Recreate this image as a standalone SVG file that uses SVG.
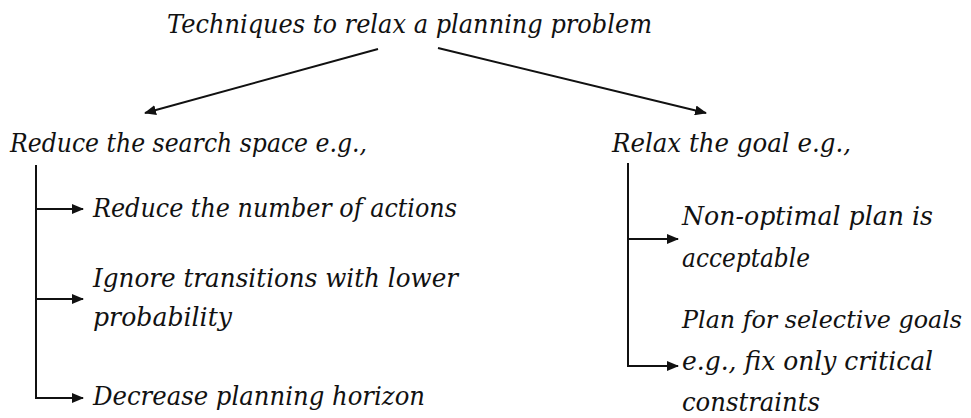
<svg xmlns="http://www.w3.org/2000/svg" width="971" height="418" viewBox="0 0 971 418">
<style>
text{font-family:"DejaVu Serif","Liberation Serif",serif;font-style:italic;font-size:26px;fill:#111}
.c{stroke:#111;stroke-width:2;fill:none}
</style>
<defs>
<marker id="ah" markerUnits="userSpaceOnUse" markerWidth="12" markerHeight="10" refX="11" refY="5" orient="auto">
<path d="M0,0 L12,5 L0,10 Z" fill="#111"/>
</marker>
</defs>
<rect width="971" height="418" fill="#fff"/>
<g id="connectors">
<line class="c" x1="378" y1="49" x2="145" y2="113" marker-end="url(#ah)"/>
<line class="c" x1="438" y1="48" x2="706" y2="113" marker-end="url(#ah)"/>
<path class="c" d="M36,165 V398 H83" marker-end="url(#ah)"/>
<line class="c" x1="36" y1="209" x2="83" y2="209" marker-end="url(#ah)"/>
<line class="c" x1="36" y1="299" x2="83" y2="299" marker-end="url(#ah)"/>
<path class="c" d="M628,163 V366 H678" marker-end="url(#ah)"/>
<line class="c" x1="628" y1="239" x2="678" y2="239" marker-end="url(#ah)"/>
</g>
<g id="root"><text x="167" y="33" textLength="485" lengthAdjust="spacingAndGlyphs">Techniques to relax a planning problem</text></g>
<g id="reduce"><text x="10" y="152" textLength="357" lengthAdjust="spacingAndGlyphs">Reduce the search space e.g.,</text></g>
<g id="relax"><text x="612" y="152" textLength="239" lengthAdjust="spacingAndGlyphs">Relax the goal e.g.,</text></g>
<g id="actions"><text x="93" y="217" textLength="364" lengthAdjust="spacingAndGlyphs">Reduce the number of actions</text></g>
<g id="transitions"><text x="93" y="287" textLength="365" lengthAdjust="spacingAndGlyphs">Ignore transitions with lower</text><text x="93" y="326" textLength="139" lengthAdjust="spacingAndGlyphs">probability</text></g>
<g id="horizon"><text x="93" y="405" textLength="332" lengthAdjust="spacingAndGlyphs">Decrease planning horizon</text></g>
<g id="nonoptimal"><text x="682" y="225" textLength="251" lengthAdjust="spacingAndGlyphs">Non-optimal plan is</text><text x="682" y="267" textLength="128" lengthAdjust="spacingAndGlyphs">acceptable</text></g>
<g id="selective"><text x="682" y="328" style="font-size:24px" textLength="280" lengthAdjust="spacingAndGlyphs">Plan for selective goals</text><text x="682" y="370" textLength="251" lengthAdjust="spacingAndGlyphs">e.g., fix only critical</text><text x="682" y="411" textLength="138" lengthAdjust="spacingAndGlyphs">constraints</text></g>
</svg>
